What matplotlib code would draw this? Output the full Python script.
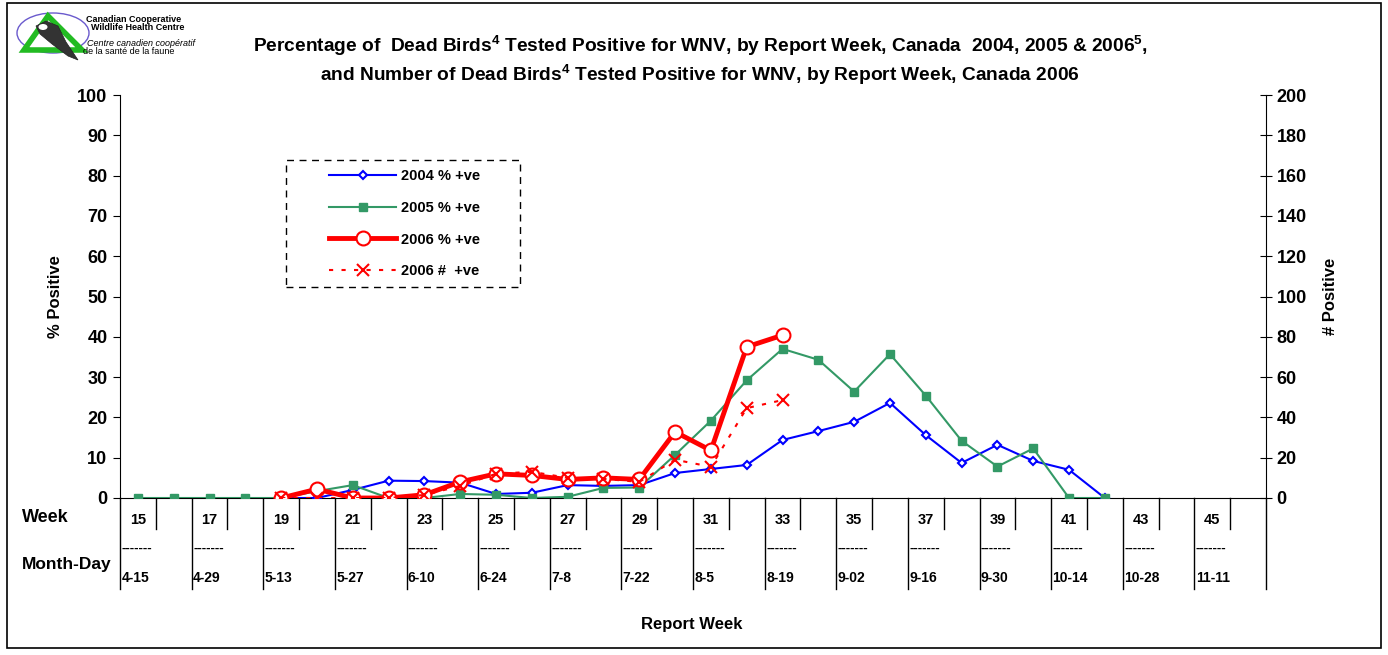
import matplotlib
matplotlib.use('Agg')
import matplotlib.pyplot as plt
from matplotlib.patches import Ellipse, Polygon, Rectangle
from matplotlib.lines import Line2D
import matplotlib.transforms as mtransforms

plt.rcParams['font.family'] = ['Liberation Sans', 'DejaVu Sans']
plt.rcParams['font.weight'] = 'bold'
plt.rcParams['mathtext.fontset'] = 'custom'
plt.rcParams['mathtext.rm'] = 'Liberation Sans:bold'
plt.rcParams['mathtext.bf'] = 'Liberation Sans:bold'
plt.rcParams['mathtext.default'] = 'bf'

# report weeks shown on the category axis
weeks = list(range(15, 47))
week_labels = ['15', '17', '19', '21', '23', '25', '27', '29', '31', '33', '35', '37', '39', '41', '43', '45']
month_day = ['4-15', '4-29', '5-13', '5-27', '6-10', '6-24', '7-8', '7-22', '8-5', '8-19',
             '9-02', '9-16', '9-30', '10-14', '10-28', '11-11']

# % positive, 2004 (weeks 19-42)
weeks_2004 = list(range(19, 43))
pct_2004 = [0, 0, 2.0, 4.3, 4.2, 3.8, 1.0, 1.3, 3.2, 3.0, 3.2, 6.2, 7.2, 8.2,
            14.4, 16.6, 18.9, 23.6, 15.6, 8.7, 13.2, 9.2, 7.0, 0]

# % positive, 2005 (weeks 15-42)
weeks_2005 = list(range(15, 43))
pct_2005 = [0, 0, 0, 0, 0, 1.7, 3.2, 0, 0, 1.0, 0.8, 0, 0.3, 2.5, 2.6, 10.7,
            19.2, 29.2, 37.0, 34.3, 26.4, 35.7, 25.4, 14.2, 7.8, 12.3, 0, 0]

# % positive and number positive, 2006 (weeks 19-33)
weeks_2006 = list(range(19, 34))
pct_2006 = [0, 2.2, 0, 0, 0.8, 4.0, 6.0, 5.6, 4.6, 5.0, 4.6, 16.4, 11.8, 37.5, 40.4]
num_2006 = [0, 0, 0, 0, 1.5, 6, 12, 13, 10, 9.5, 8, 19, 15.5, 44.6, 48.6]

W, H = 1388, 655
fig = plt.figure(figsize=(W / 100, H / 100), dpi=100)

def fx(px):
    return px / W

def fy(py):
    return 1 - py / H

# outer frame
fig.patches.append(Rectangle((fx(7), fy(648)), fx(1381) - fx(7), fy(3) - fy(648),
                             transform=fig.transFigure, fill=False, lw=1.2, ec='black'))

ax = fig.add_axes([fx(120), fy(498), fx(1266) - fx(120), fy(95) - fy(498)])
ax2 = ax.twinx()

ax.set_xlim(14.5, 46.5)
ax.set_ylim(0, 100)
ax2.set_ylim(0, 200)
ax.set_yticks(range(0, 101, 10))
ax2.set_yticks(range(0, 201, 20))
ax.set_xticks([])

for a in (ax, ax2):
    a.spines['top'].set_visible(False)
ax.spines['right'].set_visible(False)
ax2.spines['left'].set_visible(False)
ax2.spines['bottom'].set_visible(False)
ax.tick_params(axis='y', direction='out', length=5, labelsize=13, pad=4)
ax2.tick_params(axis='y', direction='inout', length=9, labelsize=13, pad=3)
for lab in ax.get_yticklabels() + ax2.get_yticklabels():
    lab.set_fontweight('bold')

ax.set_ylabel('% Positive', fontsize=12, fontweight='bold', labelpad=10)
ax2.set_ylabel('# Positive', fontsize=12, fontweight='bold', labelpad=12)

ax.plot(weeks_2004, pct_2004, color='#0000ff', lw=1.5, marker='D', ms=4.5,
        mfc='white', mec='#0000ff', mew=1.5, label='2004 % +ve', zorder=3)
ax.plot(weeks_2005, pct_2005, color='#339966', lw=1.5, marker='s', ms=6,
        mfc='#339966', mec='#339966', label='2005 % +ve', zorder=3)
ax.plot(weeks_2006, pct_2006, color='#ff0000', lw=3.5, marker='o', ms=10,
        mfc='white', mec='#ff0000', mew=1.5, label='2006 % +ve', zorder=4)
ax2.plot(weeks_2006, num_2006, color='#ff0000', lw=1.5, ls=(0, (2, 4)), marker='x', ms=9,
         mec='#ff0000', mew=1.5, zorder=5)
ax2.set_zorder(ax.get_zorder() + 1)
ax2.patch.set_visible(False)

# legend: dashed box drawn separately, entries without frame
fig.patches.append(Rectangle((fx(286), fy(287)), fx(520) - fx(286), fy(160) - fy(287),
                             transform=fig.transFigure, fill=False, lw=1.0, ec='black',
                             ls=(0, (5, 4))))
handles = ax.get_lines()[:3] + [Line2D([], [], color='#ff0000', lw=1.5, ls=(0, (2, 4)),
                                       marker='x', ms=9, mew=1.5)]
labels = ['2004 % +ve', '2005 % +ve', '2006 % +ve', '2006 #  +ve']
leg = fig.legend(handles, labels, loc='upper left', bbox_to_anchor=(fx(329), fy(169)),
                 frameon=False, handlelength=4.6, labelspacing=1.22,
                 borderpad=0, handletextpad=0.35, prop={'weight': 'bold', 'size': 10.5},
                 borderaxespad=0)

# category table below the axis
blend = mtransforms.blended_transform_factory(ax.transData, ax.transAxes)
ax_h = 498 - 95
for wk in weeks + [47]:
    x = wk - 0.5
    bottom = 589 if wk % 2 == 1 else 529
    ax.plot([x, x], [0, -(bottom - 498) / ax_h], transform=blend, color='black',
            lw=1.0, clip_on=False)

for lab, md in zip(week_labels, month_day):
    wk = int(lab)
    ax.text(wk, -(520 - 498) / ax_h, lab, transform=blend, ha='center', va='center',
            fontsize=10.5, fontweight='bold')
    ax.text(wk - 0.46, -(549 - 498) / ax_h, '-------', transform=blend, ha='left',
            va='center', fontsize=9.5, fontweight='bold')
    ax.text(wk - 0.46, -(578 - 498) / ax_h, md, transform=blend, ha='left', va='center',
            fontsize=10, fontweight='bold')

fig.text(fx(22), fy(518), 'Week', fontsize=13, fontweight='bold', ha='left', va='center')
fig.text(fx(22), fy(564), 'Month-Day', fontsize=12.5, fontweight='bold', ha='left', va='center')
fig.text(fx(692), fy(625), 'Report Week', fontsize=12, fontweight='bold', ha='center', va='center')

fig.text(fx(700), fy(46),
         r'Percentage of  Dead Birds$^4$ Tested Positive for WNV, by Report Week, Canada  2004, 2005 & 2006$^5$,',
         fontsize=13.8, fontweight='bold', ha='center', va='center')
fig.text(fx(700), fy(75),
         r'and Number of Dead Birds$^4$ Tested Positive for WNV, by Report Week, Canada 2006',
         fontsize=13.8, fontweight='bold', ha='center', va='center')

# small logo
lg = fig.add_axes([fx(15), fy(72), fx(205) - fx(15), fy(3) - fy(72)])
lg.set_xlim(15, 205)
lg.set_ylim(72, 3)
lg.axis('off')
lg.add_patch(Ellipse((53, 33), 72, 40, fill=False, ec='#6a5acd', lw=1.0))
lg.add_patch(Polygon([(24, 50), (48, 16), (82, 50)], closed=True, fill=False, ec='#22bb22', lw=4))
lg.add_patch(Polygon([(36, 26), (46, 21), (58, 26), (66, 42), (78, 60), (68, 56), (52, 44), (40, 34)],
                     closed=True, fc='#333333', ec='#222222', lw=0.5))
lg.add_patch(Ellipse((43, 27), 9, 6, fc='white', ec='none'))
lg.text(86, 19, 'Canadian Cooperative', fontsize=6.5, fontweight='bold', va='center')
lg.text(91, 28, 'Wildlife Health Centre', fontsize=6.5, fontweight='bold', va='center')
lg.text(87, 44, 'Centre canadien coopératif', fontsize=6.5, fontweight='normal',
        style='italic', va='center')
lg.text(83, 52, 'de la santé de la faune', fontsize=6.5, fontweight='normal', va='center')

fig.savefig('out.png', dpi=100)
